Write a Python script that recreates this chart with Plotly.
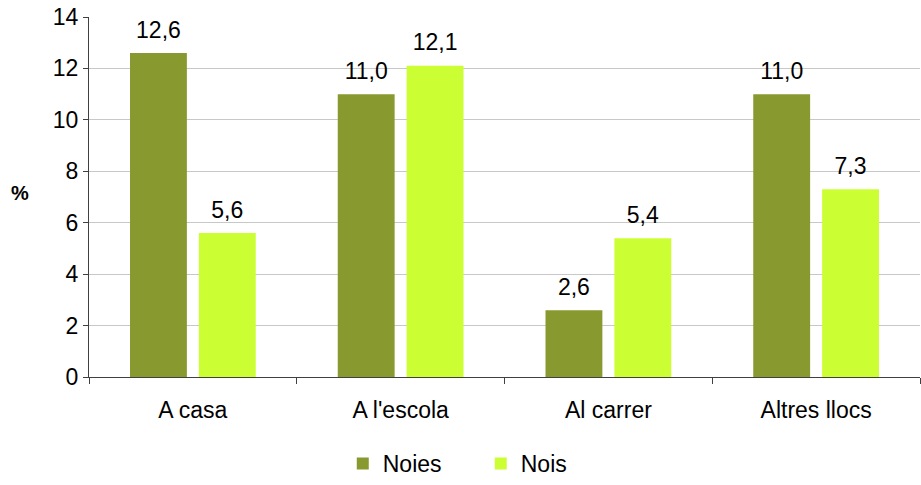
import plotly.graph_objects as go

categories = ["A casa", "A l'escola", "Al carrer", "Altres llocs"]
noies = [12.6, 11.0, 2.6, 11.0]
nois = [5.6, 12.1, 5.4, 7.3]
y_ticks = [0, 2, 4, 6, 8, 10, 12, 14]

FONT = "Liberation Sans, Arial, sans-serif"
DARK = "#889A2F"
LIGHT = "#CCFF33"

def fmt(v):
    return f"{v:.1f}".replace(".", ",")

fig = go.Figure()

for name, vals, color in [("Noies", noies, DARK), ("Nois", nois, LIGHT)]:
    fig.add_trace(go.Bar(
        x=categories, y=vals, name=name,
        marker=dict(color=color, line=dict(width=0)), hoverinfo="x+y",
    ))

# value labels: invisible markers lift the text a little above each bar
for name, vals in [("Noies", noies), ("Nois", nois)]:
    fig.add_trace(go.Scatter(
        x=categories, y=vals, mode="markers+text",
        text=[fmt(v) for v in vals], textposition="top center",
        textfont=dict(size=23, color="#000000"),
        marker=dict(size=14, color="rgba(0,0,0,0)"),
        showlegend=False, hoverinfo="skip", cliponaxis=False,
    ))

fig.update_layout(
    width=921, height=485,
    margin=dict(l=89, r=1, t=17, b=108),
    plot_bgcolor="white", paper_bgcolor="white",
    font=dict(family=FONT, size=23, color="#000000"),
    barmode="group", bargap=0.337, bargroupgap=0.174,
    scattermode="group", scattergap=0.337,
    showlegend=True,
    legend=dict(
        orientation="h", xref="container", yref="container",
        x=0.522, xanchor="center", y=-0.028, yanchor="bottom",
        font=dict(size=23), entrywidth=93,
    ),
    annotations=[dict(
        text="<b>%</b>", xref="paper", yref="paper",
        x=-0.083, y=0.51, xanchor="center", yanchor="middle",
        showarrow=False, font=dict(size=20),
    )],
)

fig.update_yaxes(
    range=[0, 14], tickvals=y_ticks,
    showgrid=True, gridcolor="#C8C8C8", gridwidth=1,
    showline=True, linecolor="#404040", linewidth=1,
    ticks="outside", ticklen=5, tickcolor="#404040",
    zeroline=False,
)
fig.update_xaxes(
    showline=True, linecolor="#404040", linewidth=1,
    ticks="outside", ticklen=6, tickcolor="#404040",
    tickson="boundaries", ticklabelstandoff=12,
)

fig.write_html(
    "out.html",
    config={"displayModeBar": False},
    post_script="document.body.style.margin='0';",
)
